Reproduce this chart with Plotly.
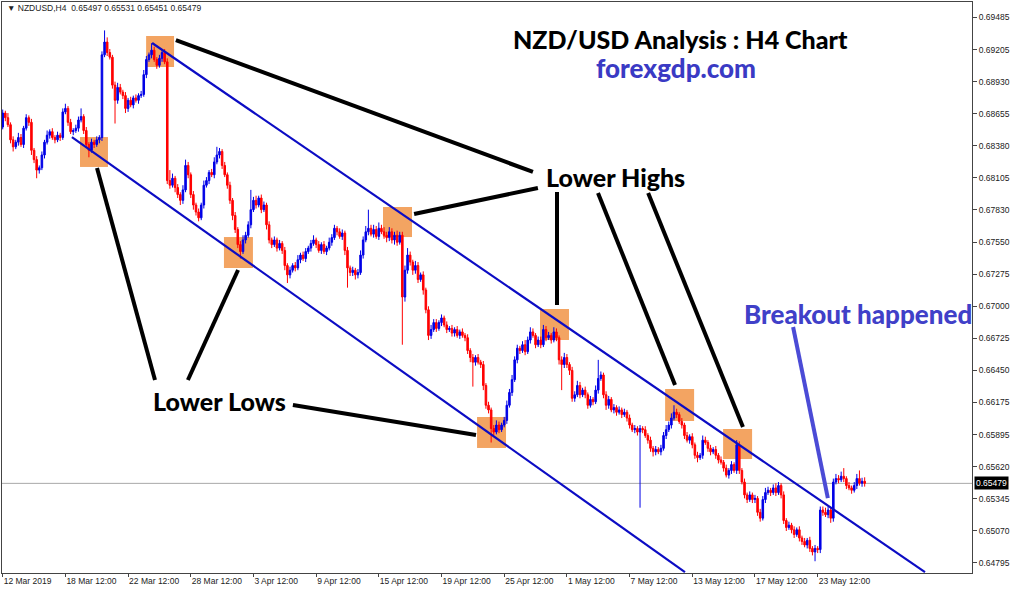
import plotly.graph_objects as go

# ---------------- data ----------------
first_open = 0.6854
closes = [
    0.6866, 0.6862, 0.6856, 0.6843, 0.6837, 0.6841, 0.6845, 0.6839, 0.6853, 0.6862, 0.6858, 0.6834,
    0.6826, 0.6817, 0.6819, 0.6830, 0.6841, 0.6847, 0.6850, 0.6845, 0.6843, 0.6847, 0.6845, 0.6867,
    0.6870, 0.6858, 0.6850, 0.6851, 0.6853, 0.6860, 0.6863, 0.6851, 0.6839, 0.6834, 0.6841, 0.6839,
    0.6843, 0.6845, 0.6916, 0.6927, 0.6918, 0.6914, 0.6890, 0.6877, 0.6888, 0.6884, 0.6881, 0.6870,
    0.6877, 0.6873, 0.6879, 0.6877, 0.6881, 0.6882, 0.6899, 0.6912, 0.6916, 0.6920, 0.6912, 0.6907,
    0.6913, 0.6918, 0.6910, 0.6808, 0.6804, 0.6810, 0.6802, 0.6796, 0.6791, 0.6800, 0.6821, 0.6813,
    0.6796, 0.6787, 0.6781, 0.6776, 0.6787, 0.6804, 0.6808, 0.6815, 0.6813, 0.6824, 0.6830, 0.6833,
    0.6821, 0.6813, 0.6804, 0.6791, 0.6778, 0.6766, 0.6753, 0.6747, 0.6757, 0.6761, 0.6770, 0.6783,
    0.6791, 0.6787, 0.6793, 0.6783, 0.6787, 0.6770, 0.6757, 0.6753, 0.6757, 0.6750, 0.6754, 0.6748,
    0.6735, 0.6727, 0.6731, 0.6735, 0.6733, 0.6740, 0.6744, 0.6741, 0.6747, 0.6750, 0.6754, 0.6757,
    0.6753, 0.6748, 0.6753, 0.6747, 0.6750, 0.6755, 0.6759, 0.6767, 0.6764, 0.6760, 0.6763, 0.6748,
    0.6733, 0.6729, 0.6731, 0.6727, 0.6729, 0.6744, 0.6757, 0.6764, 0.6767, 0.6762, 0.6766, 0.6760,
    0.6767, 0.6764, 0.6761, 0.6759, 0.6764, 0.6757, 0.6761, 0.6755, 0.6761, 0.6708, 0.6731, 0.6744,
    0.6738, 0.6731, 0.6735, 0.6723, 0.6727, 0.6714, 0.6697, 0.6675, 0.6680, 0.6686, 0.6681, 0.6686,
    0.6690, 0.6684, 0.6680, 0.6681, 0.6677, 0.6680, 0.6675, 0.6678, 0.6675, 0.6673, 0.6662, 0.6656,
    0.6652, 0.6656, 0.6652, 0.6650, 0.6632, 0.6615, 0.6611, 0.6595, 0.6592, 0.6598, 0.6594, 0.6598,
    0.6602, 0.6615, 0.6626, 0.6637, 0.6654, 0.6664, 0.6662, 0.6667, 0.6661, 0.6671, 0.6678, 0.6675,
    0.6667, 0.6671, 0.6667, 0.6680, 0.6673, 0.6675, 0.6671, 0.6678, 0.6673, 0.6654, 0.6650, 0.6656,
    0.6650, 0.6645, 0.6621, 0.6624, 0.6632, 0.6624, 0.6628, 0.6624, 0.6615, 0.6620, 0.6618, 0.6628,
    0.6638, 0.6641, 0.6624, 0.6615, 0.6620, 0.6611, 0.6613, 0.6609, 0.6611, 0.6607, 0.6609, 0.6604,
    0.6598, 0.6594, 0.6595, 0.6592, 0.6595, 0.6594, 0.6589, 0.6585, 0.6578, 0.6575, 0.6577, 0.6575,
    0.6578, 0.6589, 0.6594, 0.6598, 0.6604, 0.6609, 0.6607, 0.6601, 0.6598, 0.6589, 0.6585, 0.6588,
    0.6581, 0.6572, 0.6570, 0.6572, 0.6585, 0.6583, 0.6578, 0.6575, 0.6577, 0.6572, 0.6568, 0.6566,
    0.6561, 0.6555, 0.6559, 0.6564, 0.6559, 0.6581, 0.6559, 0.6549, 0.6538, 0.6534, 0.6538, 0.6534,
    0.6535, 0.6523, 0.6518, 0.6534, 0.6540, 0.6542, 0.6540, 0.6544, 0.6540, 0.6546, 0.6538, 0.6516,
    0.6510, 0.6512, 0.6508, 0.6504, 0.6508, 0.6501, 0.6498, 0.6495, 0.6499, 0.6492, 0.6489, 0.6492,
    0.6491, 0.6525, 0.6523, 0.6521, 0.6525, 0.6518, 0.6549, 0.6552, 0.6551, 0.6554, 0.6552, 0.6546,
    0.6544, 0.6542, 0.6546, 0.6552, 0.6548, 0.65497, 0.65479,
]
# upper / lower wick lengths in pips
wick_up = [
    3, 2, 4, 2, 3, 2, 4, 3, 2, 3, 2, 3,
    2, 3, 2, 3, 2, 4, 2, 3, 2, 3, 2, 3,
    4, 2, 3, 2, 3, 3, 7, 2, 3, 2, 3, 2,
    3, 2, 3, 10, 4, 3, 2, 3, 4, 3, 2, 3,
    2, 3, 2, 3, 2, 3, 4, 3, 2, 6, 3, 2,
    3, 2, 3, 3, 9, 4, 2, 3, 2, 4, 5, 3,
    2, 3, 2, 3, 2, 4, 3, 2, 3, 4, 7, 3,
    2, 3, 2, 3, 2, 3, 2, 3, 4, 3, 3, 17,
    3, 4, 2, 3, 3, 2, 3, 2, 3, 2, 3, 2,
    3, 2, 3, 2, 3, 4, 2, 3, 3, 2, 3, 4,
    2, 3, 2, 3, 2, 4, 3, 3, 2, 3, 3, 2,
    3, 2, 3, 2, 3, 4, 3, 5, 16, 3, 4, 3,
    5, 3, 4, 3, 4, 3, 3, 4, 3, 3, 4, 6,
    3, 2, 4, 3, 2, 3, 2, 3, 4, 3, 3, 2,
    3, 2, 3, 2, 3, 2, 3, 2, 3, 2, 3, 2,
    3, 2, 3, 2, 3, 2, 3, 2, 3, 4, 3, 2,
    3, 4, 3, 4, 3, 3, 2, 3, 4, 3, 4, 3,
    2, 3, 3, 4, 3, 3, 2, 4, 3, 2, 3, 4,
    3, 2, 3, 3, 4, 3, 2, 3, 2, 3, 2, 4,
    16, 3, 2, 3, 3, 2, 3, 2, 3, 2, 3, 2,
    3, 2, 3, 2, 3, 2, 3, 2, 3, 2, 3, 2,
    3, 3, 4, 3, 4, 6, 3, 2, 3, 2, 3, 2,
    3, 2, 3, 2, 4, 3, 2, 3, 2, 3, 2, 3,
    2, 3, 2, 3, 2, 4, 3, 2, 3, 2, 3, 2,
    3, 2, 3, 3, 4, 3, 2, 3, 4, 3, 2, 3,
    2, 3, 2, 3, 2, 3, 2, 3, 2, 3, 2, 3,
    2, 3, 3, 4, 3, 2, 3, 4, 3, 4, 7, 2,
    3, 2, 3, 4, 7, 3, 3,
]
wick_dn = [
    2, 3, 2, 3, 4, 2, 3, 2, 3, 2, 3, 4,
    3, 7, 3, 2, 3, 2, 3, 2, 3, 2, 3, 2,
    2, 3, 2, 3, 2, 3, 2, 3, 3, 6, 2, 3,
    2, 3, 3, 2, 3, 2, 3, 20, 3, 2, 3, 4,
    3, 2, 3, 2, 3, 2, 2, 3, 2, 3, 2, 3,
    2, 3, 2, 3, 3, 2, 4, 3, 4, 3, 2, 3,
    3, 4, 3, 3, 2, 3, 2, 3, 2, 3, 2, 3,
    3, 2, 3, 3, 4, 3, 3, 6, 2, 3, 2, 3,
    2, 3, 2, 3, 2, 4, 3, 3, 2, 3, 2, 3,
    4, 7, 3, 2, 3, 2, 3, 2, 3, 2, 3, 2,
    3, 2, 3, 2, 3, 2, 3, 2, 3, 2, 3, 4,
    17, 3, 3, 4, 3, 2, 3, 2, 3, 2, 3, 2,
    3, 2, 3, 4, 3, 3, 4, 3, 2, 41, 4, 3,
    3, 4, 3, 3, 2, 4, 3, 4, 3, 2, 3, 2,
    3, 2, 3, 2, 3, 3, 2, 3, 2, 3, 3, 4,
    21, 3, 2, 3, 4, 3, 3, 12, 3, 2, 3, 2,
    2, 3, 2, 3, 2, 3, 3, 2, 3, 2, 3, 2,
    3, 2, 3, 2, 3, 2, 3, 2, 3, 4, 22, 3,
    3, 4, 3, 3, 2, 3, 2, 3, 3, 2, 3, 2,
    3, 2, 3, 4, 3, 2, 3, 3, 2, 3, 2, 3,
    3, 2, 3, 3, 65, 3, 2, 3, 3, 4, 3, 2,
    3, 2, 3, 2, 3, 2, 3, 2, 3, 3, 2, 3,
    3, 3, 4, 2, 3, 2, 3, 3, 2, 3, 3, 2,
    3, 2, 3, 3, 2, 3, 3, 2, 3, 3, 2, 3,
    3, 3, 3, 2, 3, 2, 3, 2, 3, 2, 3, 3,
    3, 2, 3, 3, 2, 3, 3, 2, 3, 3, 3, 8,
    3, 3, 3, 2, 3, 4, 3, 2, 3, 2, 3, 3,
    2, 3, 2, 3, 2, 3, 3,
]
last_ohlc = [0.65497, 0.65531, 0.65451, 0.65479]
current_price = 0.65479
bars_per_label = 24
date_labels = ["12 Mar 2019", "18 Mar 12:00", "22 Mar 12:00", "28 Mar 12:00", "3 Apr 12:00",
               "9 Apr 12:00", "15 Apr 12:00", "19 Apr 12:00", "25 Apr 12:00", "1 May 12:00",
               "7 May 12:00", "13 May 12:00", "17 May 12:00", "23 May 12:00"]
price_labels = ["0.69485", "0.69205", "0.68930", "0.68655", "0.68380", "0.68105", "0.67830",
                "0.67550", "0.67275", "0.67000", "0.66725", "0.66450", "0.66175", "0.65895",
                "0.65620", "0.65345", "0.65070", "0.64795"]

# ---------------- build OHLC ----------------
n = len(closes)
idx = list(range(n))
opens = [first_open] + closes[:-1]
highs = [max(o, c) + u * 1e-4 for o, c, u in zip(opens, closes, wick_up)]
lows = [min(o, c) - d * 1e-4 for o, c, d in zip(opens, closes, wick_dn)]
opens[-1], highs[-1], lows[-1], closes[-1] = last_ohlc

BLUE = "#0000e6"
RED = "#ff0000"

fig = go.Figure()
fig.add_trace(go.Candlestick(
    x=idx, open=opens, high=highs, low=lows, close=closes,
    increasing=dict(line=dict(color=BLUE, width=1), fillcolor=BLUE),
    decreasing=dict(line=dict(color=RED, width=1), fillcolor=RED),
    whiskerwidth=0, showlegend=False, hoverinfo="skip",
))

# ---------------- annotation geometry (data units: bar index, price) ----------------
boxes = [(29.6, 40.3, 0.68197, 0.68454), (54.9, 65.6, 0.69055, 0.69322),
         (84.7, 95.8, 0.67329, 0.67595), (145.6, 156.7, 0.67595, 0.67853),
         (205.7, 216.8, 0.66710, 0.66977), (181.6, 192.7, 0.65783, 0.66049),
         (253.6, 264.7, 0.66015, 0.66290), (275.8, 286.9, 0.65688, 0.65946)]
channel = [((57.2, 0.69262), (353.1, 0.64717)), ((26.5, 0.68454), (261.2, 0.64717))]
pointers = [((66.3, 0.69287), (203.0, 0.68154)), ((157.5, 0.67793), (204.9, 0.68016)),
            ((212.2, 0.67982), (212.2, 0.67011)), ((227.9, 0.67973), (257.4, 0.66324)),
            ((247.1, 0.67973), (283.4, 0.65963)), ((36.1, 0.68188), (58.3, 0.66367)),
            ((90.1, 0.67312), (70.9, 0.66367)), ((111.1, 0.66152), (181.2, 0.65894))]
breakout_ptr = ((302.6, 0.66822), (315.9, 0.65353))

shapes = []
shapes.append(dict(type="line", xref="paper", x0=0, x1=1, yref="y", y0=current_price,
                   y1=current_price, line=dict(color="#a9a9a9", width=1), layer="below"))
for x0, x1, y0, y1 in boxes:
    shapes.append(dict(type="rect", xref="x", yref="y", x0=x0, x1=x1, y0=y0, y1=y1,
                       fillcolor="#f3a462", line=dict(width=0), layer="below"))
for (a, b) in channel:
    shapes.append(dict(type="line", xref="x", yref="y", x0=a[0], y0=a[1], x1=b[0], y1=b[1],
                       line=dict(color="#0c0cc4", width=2.2), layer="above"))
for (a, b) in pointers:
    shapes.append(dict(type="line", xref="x", yref="y", x0=a[0], y0=a[1], x1=b[0], y1=b[1],
                       line=dict(color="#000000", width=4), layer="above"))
shapes.append(dict(type="line", xref="x", yref="y", x0=breakout_ptr[0][0], y0=breakout_ptr[0][1],
                   x1=breakout_ptr[1][0], y1=breakout_ptr[1][1],
                   line=dict(color="#4b4bd6", width=4), layer="above"))

W, H = 1024, 589
L, R, T, B = 2, 52, 2, 16
pw, ph = W - L - R, H - T - B


def px(x):
    return (x - L) / pw


def py(y):
    return 1 - (y - T) / ph


TF = "Lato"
annotations = [
    dict(text="▼ NZDUSD,H4  0.65497 0.65531 0.65451 0.65479", x=px(5), y=py(8),
         xanchor="left", yanchor="middle", font=dict(family="Liberation Sans", size=8.5, color="#222")),
    dict(text="NZD/USD Analysis : H4 Chart", x=px(680), y=py(39),
         font=dict(family=TF, size=25, weight=900, color="#000")),
    dict(text="forexgdp.com", x=px(676), y=py(68),
         font=dict(family=TF, size=26, weight=900, color="#3a3ac4")),
    dict(text="Lower Highs", x=px(615), y=py(177),
         font=dict(family=TF, size=25, weight=900, color="#000")),
    dict(text="Lower Lows", x=px(219), y=py(401),
         font=dict(family=TF, size=25, weight=900, color="#000")),
    dict(text="Breakout happened", x=px(858), y=py(314),
         font=dict(family=TF, size=26, weight=900, color="#4040c8")),
    dict(text="0.65479", x=1, xshift=2, xanchor="left", yref="y", y=current_price,
         yanchor="middle", bgcolor="#000", borderpad=1,
         font=dict(family="Liberation Sans", size=8.5, color="#fff")),
]
for a in annotations:
    a.setdefault("xref", "paper")
    a.setdefault("yref", "paper")
    a.setdefault("showarrow", False)
    a.setdefault("xanchor", "center")
    a.setdefault("yanchor", "middle")

tick_font = dict(family="Liberation Sans", size=8.5, color="#222")
fig.update_layout(
    width=W, height=H, margin=dict(l=L, r=R, t=T, b=B),
    paper_bgcolor="white", plot_bgcolor="white", boxgap=0.15,
    shapes=shapes, annotations=annotations, showlegend=False,
    xaxis=dict(range=[-0.27, 371.09], rangeslider=dict(visible=False), showgrid=False,
               zeroline=False, tickvals=[k * bars_per_label for k in range(len(date_labels))],
               ticktext=date_labels, ticks="outside", ticklen=3, tickcolor="#444",
               ticklabelposition="outside right", tickfont=tick_font,
               showline=True, linecolor="#444", linewidth=1, mirror=True),
    yaxis=dict(range=[0.64709, 0.69614], side="right", showgrid=False, zeroline=False,
               tickvals=[float(s) for s in price_labels], ticktext=price_labels,
               ticks="outside", ticklen=4, tickcolor="#444", tickfont=tick_font,
               showline=True, linecolor="#444", linewidth=1, mirror=True),
)
fig.write_html("out.html", config={"displayModeBar": False},
               post_script="document.body.style.margin='0';document.body.style.padding='0';")
